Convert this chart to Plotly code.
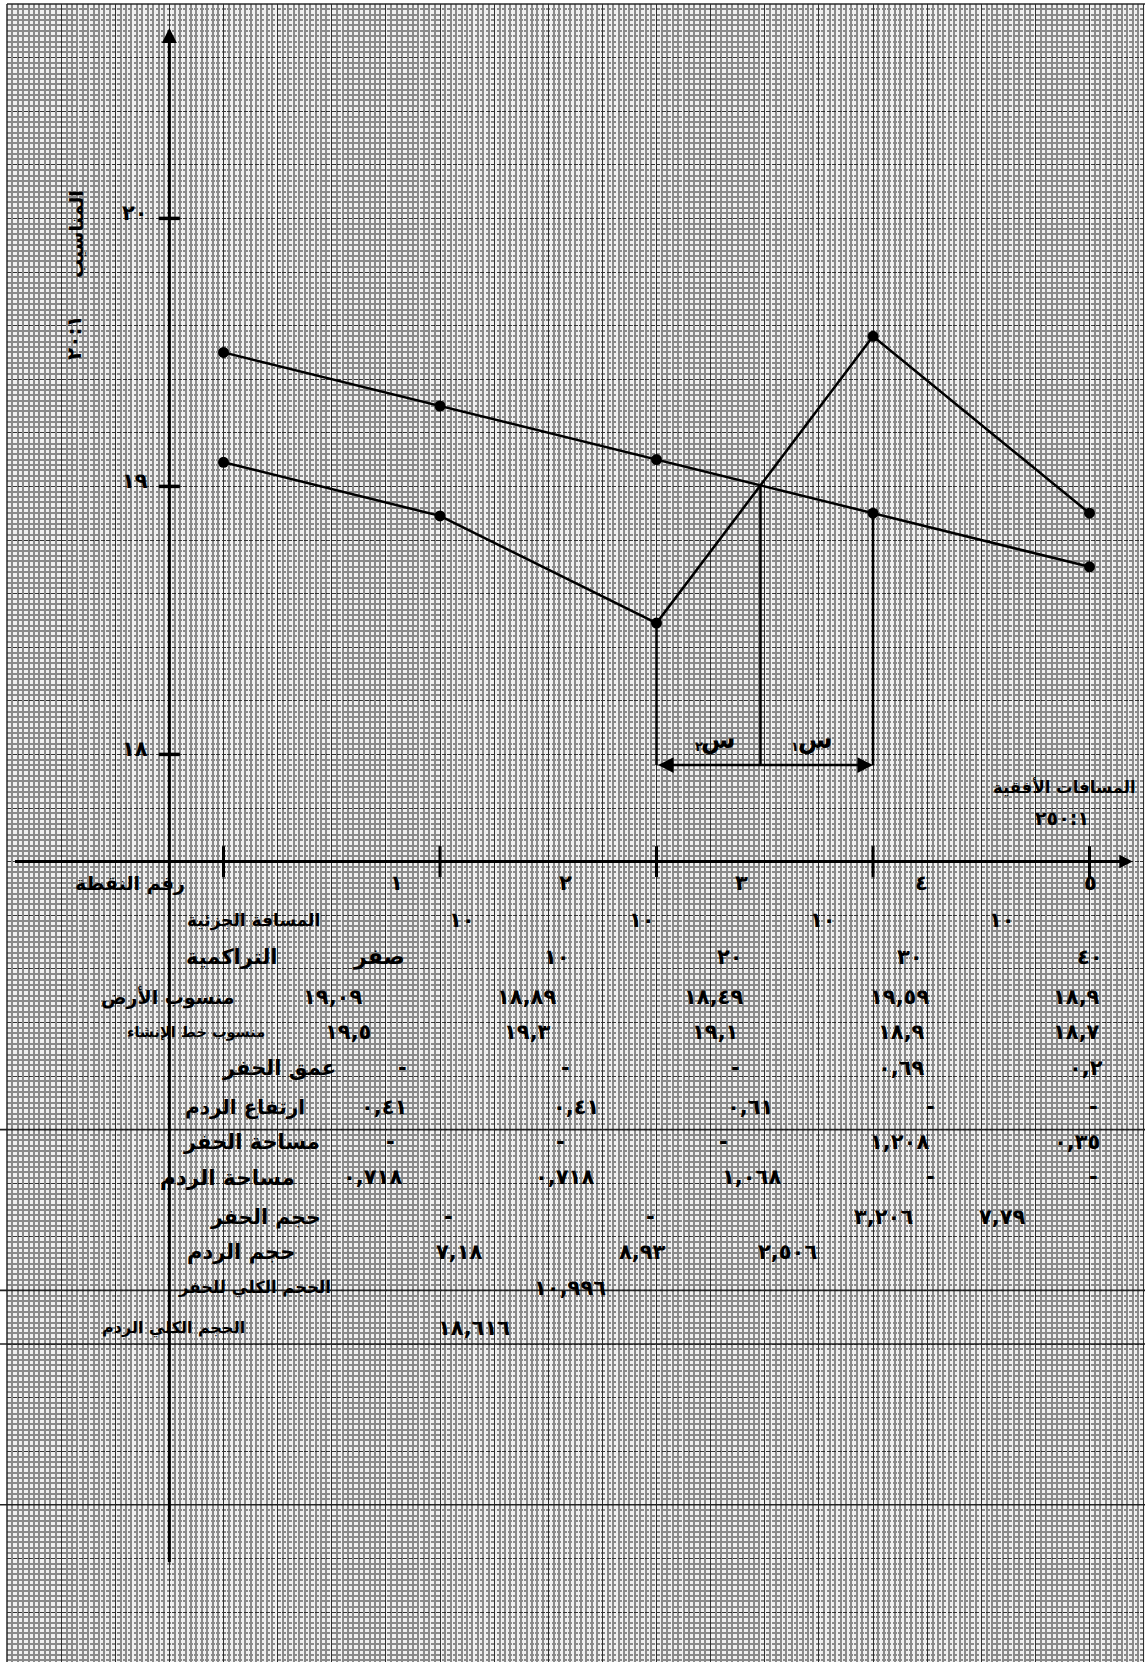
import plotly.graph_objects as go

# --- profile data (station in m, elevations in m) ---
stations = [0, 10, 20, 30, 40]
ground = [19.09, 18.89, 18.49, 19.56, 18.9]      # منسوب الأرض (as plotted)
design = [19.5, 19.3, 19.1, 18.9, 18.7]          # منسوب خط الإنشاء
y_ticks = [20, 19, 18]
y_tick_text = ["٢٠", "١٩", "١٨"]
x_axis_level = 17.6
y_axis_station = -2.5
dim_level = 17.96

# --- table text ---
row_labels = ["رقم النقطة", "المسافة الجزئية", "التراكمية", "منسوب الأرض",
              "منسوب خط الإنشاء", "عمق الحفر", "ارتفاع الردم", "مساحة الحفر",
              "مساحة الردم", "حجم الحفر", "حجم الردم", "الحجم الكلي للحفر",
              "الحجم الكلي الردم"]
point_no = ["١", "٢", "٣", "٤", "٥"]
partial_dist = ["١٠", "١٠", "١٠", "١٠"]
cumulative = ["صفر", "١٠", "٢٠", "٣٠", "٤٠"]
ground_txt = ["١٩,٠٩", "١٨,٨٩", "١٨,٤٩", "١٩,٥٩", "١٨,٩"]
design_txt = ["١٩,٥", "١٩,٣", "١٩,١", "١٨,٩", "١٨,٧"]
cut_depth = ["-", "-", "-", "٠,٦٩", "٠,٢"]
fill_height = ["٠,٤١", "٠,٤١", "٠,٦١", "-", "-"]
cut_area = ["-", "-", "-", "١,٢٠٨", "٠,٣٥"]
fill_area = ["٠,٧١٨", "٠,٧١٨", "١,٠٦٨", "-", "-"]
cut_vol = ["-", "-", "٣,٢٠٦", "٧,٧٩"]
fill_vol = ["٧,١٨", "٨,٩٣", "٢,٥٠٦"]
total_cut = ["١٠,٩٩٦"]
total_fill = ["١٨,٦١٦"]

W, H = 1145, 1662
L, T = 7, 4
PW, PH = W - L, H - T
FONT = "DejaVu Sans"


def px(x):
    return (x - L) / PW


def py(y):
    return 1 - (y - T) / PH


def spaced(t, sp=3):
    return '<span style="letter-spacing:%gpx">%s</span>' % (sp, t)


fig = go.Figure()


def note(txt, x, y, size=18, anchor="center", angle=0):
    fig.add_annotation(x=px(x), y=py(y), xref="paper", yref="paper", text=txt,
                       showarrow=False, xanchor=anchor, yanchor="middle",
                       textangle=angle,
                       font=dict(family=FONT, size=size, color="black", weight="bold"))


# ground and design lines
fig.add_trace(go.Scatter(x=stations, y=ground, mode="lines+markers",
                         line=dict(color="black", width=2.5),
                         marker=dict(color="black", size=11)))
fig.add_trace(go.Scatter(x=stations, y=design, mode="lines+markers",
                         line=dict(color="black", width=2.5),
                         marker=dict(color="black", size=11)))

# crossing point between points 3 and 4
s_g = (ground[3] - ground[2]) / (stations[3] - stations[2])
s_d = (design[3] - design[2]) / (stations[3] - stations[2])
dx = (design[2] - ground[2]) / (s_g - s_d)
x_cross = stations[2] + dx
y_cross = ground[2] + s_g * dx

fig.add_trace(go.Scatter(
    x=[stations[2], stations[2], None, x_cross, x_cross, None, stations[3], stations[3]],
    y=[ground[2], dim_level, None, y_cross, dim_level, None, design[3], dim_level],
    mode="lines", line=dict(color="black", width=2.5)))

# axis ticks
fig.add_trace(go.Scatter(x=stations, y=[x_axis_level] * len(stations), mode="markers",
                         marker=dict(symbol="line-ns", size=22, line=dict(color="black", width=3))))
fig.add_trace(go.Scatter(x=[y_axis_station] * len(y_ticks), y=y_ticks, mode="markers",
                         marker=dict(symbol="line-ew", size=15, line=dict(color="black", width=3.5))))

# axes with arrows
fig.add_annotation(x=y_axis_station, y=20.71, ax=y_axis_station, ay=14.98,
                   xref="x", yref="y", axref="x", ayref="y", text="",
                   showarrow=True, arrowhead=2, arrowsize=1, arrowwidth=3, arrowcolor="black")
fig.add_annotation(x=42.0, y=x_axis_level, ax=-9.7, ay=x_axis_level,
                   xref="x", yref="y", axref="x", ayref="y", text="",
                   showarrow=True, arrowhead=2, arrowsize=0.9, arrowwidth=3, arrowcolor="black")
# dimension arrow س١ / س٢
fig.add_annotation(x=stations[3], y=dim_level, ax=stations[2], ay=dim_level,
                   xref="x", yref="y", axref="x", ayref="y", text="",
                   showarrow=True, arrowhead=2, arrowsize=1.25, arrowwidth=2.5,
                   arrowside="end+start", arrowcolor="black")

# y tick labels
for v, t in zip(y_ticks, y_tick_text):
    fig.add_annotation(x=y_axis_station, y=v, xref="x", yref="y", text=spaced(t, 3),
                       showarrow=False, xanchor="right", yanchor="middle", xshift=-19, yshift=5,
                       font=dict(family=FONT, size=21, color="black", weight="bold"))

# axis titles
note("المناسيب", 76, 234, size=19, angle=-90)
note(spaced("٢٠:١", 3), 74, 338, size=20, angle=-90)
note("المسافات الأفقية", 1138, 787, size=16.5, anchor="right")
note(spaced("٢٥٠:١", 3), 1062, 818, size=19)
note("س", 738, 740, size=25, anchor="right")
note("٢", 705, 746, size=13, anchor="right")
note("س", 835, 740, size=25, anchor="right")
note("١", 801, 746, size=13, anchor="right")

# table labels
label_pos = [(187, 883, 19), (322, 920, 17), (280, 957, 21), (237, 997, 19),
             (267, 1032, 14.5), (338, 1068, 21), (307, 1107, 20), (322, 1142, 21),
             (297, 1177, 21.5), (323, 1217, 20.5), (297, 1252, 21), (333, 1288, 16.5),
             (247, 1328, 16)]
for txt, (x, y, s) in zip(row_labels, label_pos):
    note(txt, x, y, size=s, anchor="right")

rows = [point_no, partial_dist, cumulative, ground_txt, design_txt, cut_depth,
        fill_height, cut_area, fill_area, cut_vol, fill_vol, total_cut, total_fill]
cell_x = [[395, 564, 740, 920, 1089],
          [460, 640, 821, 1000],
          [379, 555, 728, 908, 1088],
          [331, 525, 712, 898, 1075],
          [346, 526, 713, 900, 1075],
          [402, 565, 735, 900, 1084],
          [382, 574, 748, 930, 1093],
          [390, 560, 723, 898, 1075],
          [371, 563, 750, 930, 1093],
          [448, 650, 882, 1001],
          [458, 641, 786],
          [568],
          [472]]
for vals, xs, (_, y, _s) in zip(rows, cell_x, label_pos):
    for v, x in zip(vals, xs):
        if v == "صفر":
            note(v, x, y, size=22)
        else:
            note(spaced(v, 3), x + 1.5, y, size=21)

# paper borders and table rules
fig.add_shape(type="line", xref="paper", yref="paper", x0=0, x1=0, y0=0, y1=1,
              line=dict(color="#2a2a2a", width=1.5))
fig.add_shape(type="line", xref="paper", yref="paper", x0=0, x1=1, y0=1, y1=1,
              line=dict(color="#2a2a2a", width=1.5))
table_rules = [16.6, 16.0, 15.8, 15.2]
for lv in table_rules:
    fig.add_shape(type="line", xref="paper", yref="y", x0=-L / PW, x1=1, y0=lv, y1=lv,
                  line=dict(color="#222222", width=1.6))

fig.update_xaxes(range=[-10, -10 + PW / 21.65], dtick=2.5, tick0=0,
                 showgrid=True, gridcolor="#2e2e2e", gridwidth=1.3,
                 minor=dict(dtick=0.25, showgrid=True, gridcolor="#8a8a8a", gridwidth=1.7),
                 showticklabels=False, ticks="", zeroline=False, showline=False)
fig.update_yaxes(range=[20.8 - PH / 268.0, 20.8], dtick=0.2, tick0=0,
                 showgrid=True, gridcolor="#333333", gridwidth=1.3, griddash="4px,1.5px",
                 minor=dict(dtick=0.02, showgrid=True, gridcolor="#8a8a8a", gridwidth=1.7),
                 showticklabels=False, ticks="", zeroline=False, showline=False)

fig.update_layout(width=W, height=H, showlegend=False,
                  margin=dict(l=L, r=0, t=T, b=0, pad=0, autoexpand=False),
                  paper_bgcolor="white", plot_bgcolor="#f0f0f0")

fig.write_html("out.html", config={"displayModeBar": False},
               post_script="document.body.style.margin='0';")
